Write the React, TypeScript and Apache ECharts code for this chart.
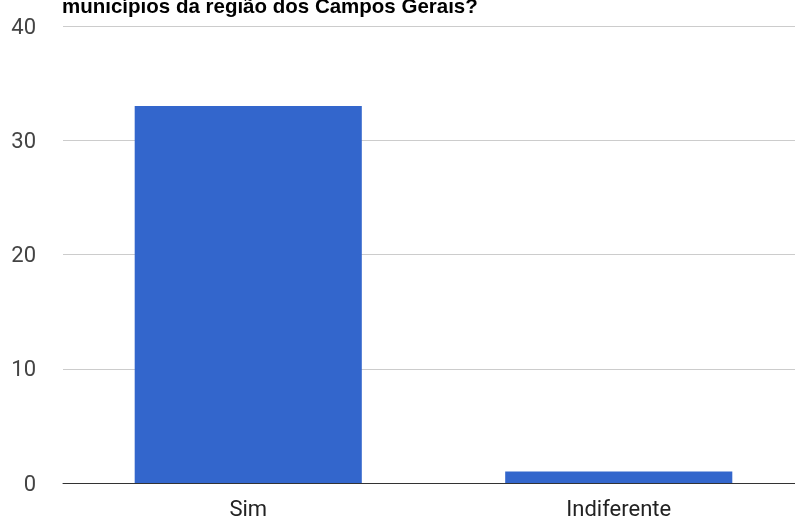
import React, { useEffect, useRef } from "react";
import * as echarts from "echarts";

const categories = ["Sim", "Indiferente"];
const values = [33, 1];
const yTicks = [0, 10, 20, 30, 40];
const titleText = "municípios da região dos Campos Gerais?";

export default function App() {
  const ref = useRef<HTMLDivElement>(null);
  useEffect(() => {
    const chart = echarts.init(ref.current!, null, { renderer: "svg" });
    chart.setOption({
      animation: false,
      title: {
        text: titleText,
        left: 57,
        top: -10,
        textStyle: {
          fontFamily: "Liberation Sans, Arial, sans-serif",
          fontWeight: "bold",
          fontSize: 20.5,
          color: "#000",
        },
      },
      grid: { left: 63, right: 0, top: 26, bottom: 38, containLabel: false },
      xAxis: {
        type: "category",
        data: categories,
        axisTick: { show: false },
        axisLine: { lineStyle: { color: "#333", width: 1 } },
        axisLabel: {
          color: "#222",
          fontSize: 22,
          fontFamily: "Roboto, sans-serif",
          margin: 14,
        },
      },
      yAxis: {
        type: "value",
        min: yTicks[0],
        max: yTicks[yTicks.length - 1],
        interval: 10,
        axisLine: { show: false },
        axisTick: { show: false },
        splitLine: { lineStyle: { color: "#ccc", width: 1 } },
        axisLabel: {
          color: "#444",
          fontSize: 22,
          fontFamily: "Roboto, sans-serif",
          margin: 27,
        },
      },
      series: [
        {
          type: "bar",
          data: values,
          barWidth: "61.3%",
          itemStyle: { color: "#3366cc" },
        },
      ],
    });
    return () => chart.dispose();
  }, []);
  return (
    <div style={{ position: "fixed", left: 0, top: 0, width: 795, height: 521, overflow: "hidden" }}>
      <div ref={ref} style={{ width: 804, height: 521 }} />
    </div>
  );
}
